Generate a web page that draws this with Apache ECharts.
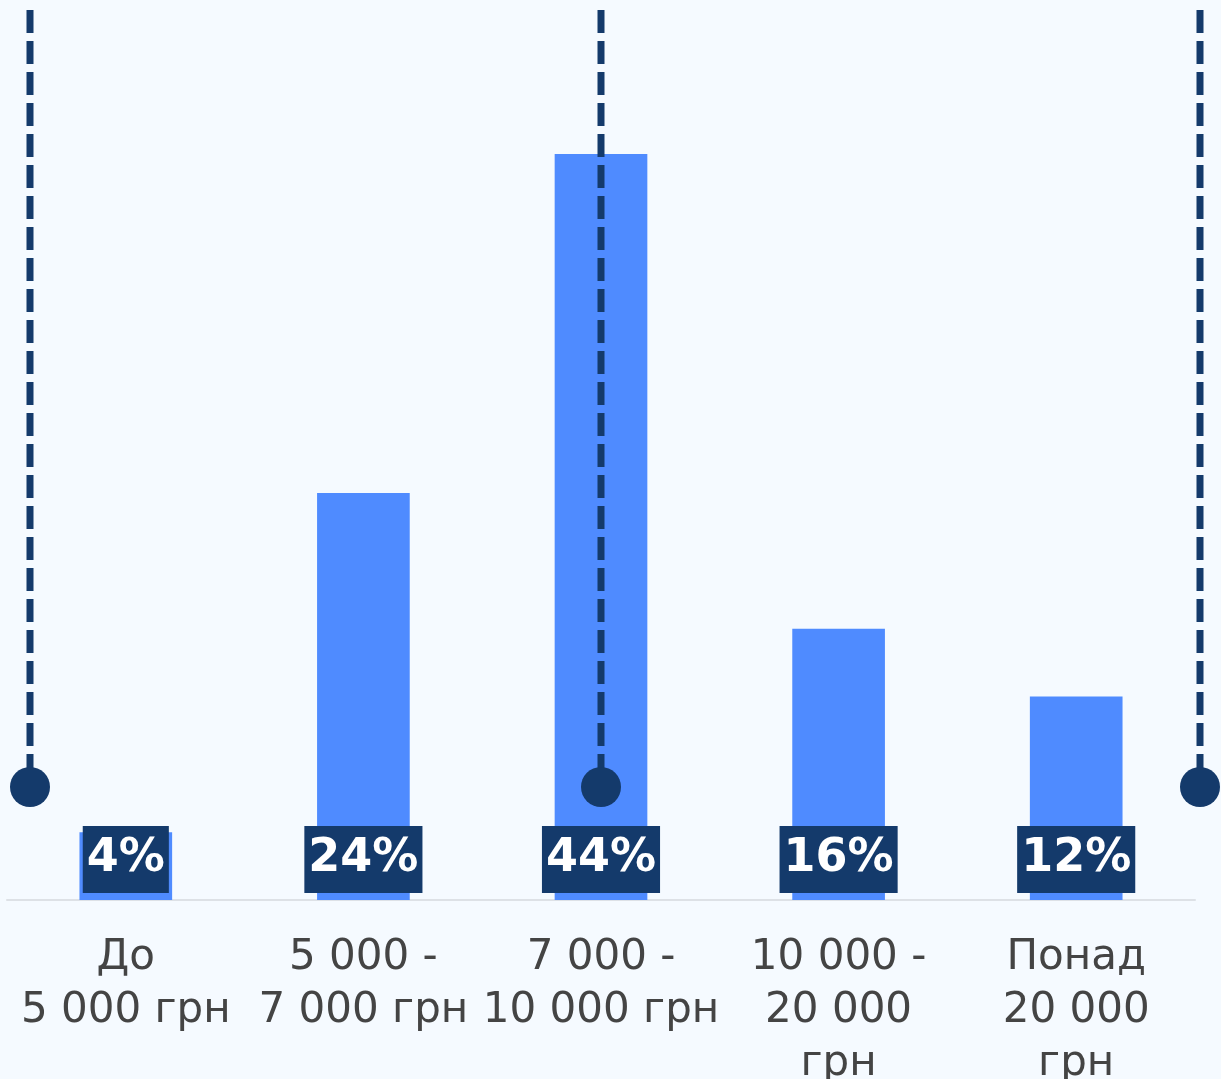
<!DOCTYPE html>
<html><head><meta charset="utf-8">
<script src="https://cdn.jsdelivr.net/npm/echarts@6/dist/echarts.min.js"></script>
<style>html,body{margin:0;padding:0;background:#f5faff;}#c{width:1221px;height:1079px;}</style>
</head><body><div id="c"></div>
<script>
const categories = ["До\n5 000 грн", "5 000 -\n7 000 грн", "7 000 -\n10 000 грн", "10 000 -\n20 000\nгрн", "Понад\n20 000\nгрн"];
const values = [4, 24, 44, 16, 12];
const chart = echarts.init(document.getElementById('c'));
const navy = '#143a6b';
function pin(x){
  return [
    {type:'line', shape:{x1:x,y1:10,x2:x,y2:770}, style:{stroke:navy,lineWidth:7,lineDash:[23,8]}, z:100},
    {type:'circle', shape:{cx:x,cy:787,r:20}, style:{fill:navy}, z:100}
  ];
}
chart.setOption({
  backgroundColor:'#f5faff',
  grid:{left:7,right:26,top:154,bottom:179,outerBoundsMode:'none',containLabel:false},
  xAxis:{type:'category',data:categories,
    axisLine:{lineStyle:{color:'#dde1e6',width:2}},
    axisTick:{show:false},
    axisLabel:{color:'#444',fontSize:42,lineHeight:53,margin:32,interval:0,fontFamily:'DejaVu Sans'}},
  yAxis:{type:'value',min:0,max:44,show:false,splitLine:{show:false}},
  series:[{type:'bar',data:values,barWidth:'39%',itemStyle:{color:'#4f8bff'},
    label:{show:true,position:'insideBottom',distance:7,formatter:'{c}%',
      color:'#fff',fontSize:46,fontWeight:'bold',fontFamily:'DejaVu Sans',
      backgroundColor:navy,padding:[8,4,8,4],lineHeight:51}}],
  graphic: [].concat(pin(30), pin(601), pin(1200))
});
</script></body></html>
